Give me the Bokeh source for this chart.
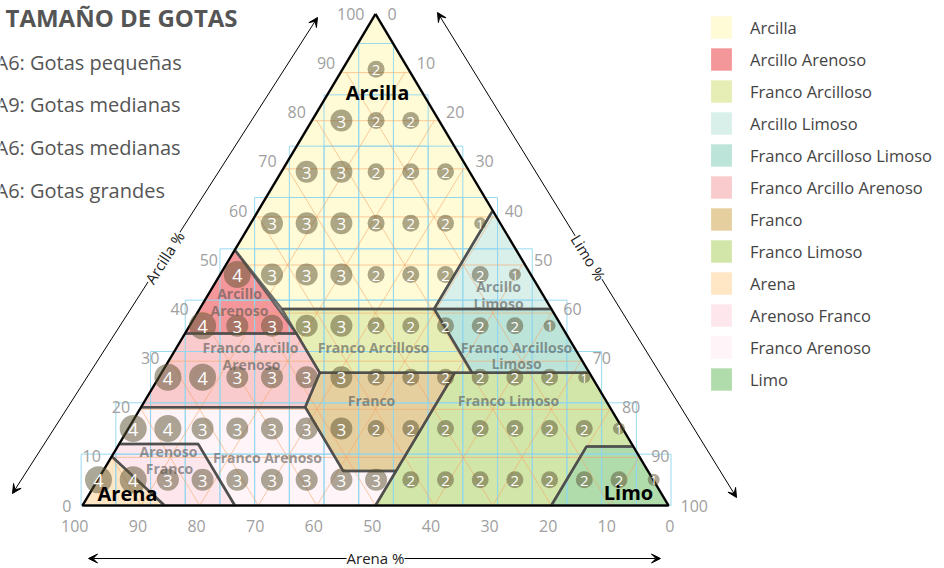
from bokeh.plotting import figure
from bokeh.models import Range1d, Legend, LegendItem, ColumnDataSource, Arrow, VeeHead, Label
from bokeh.core.properties import value
from bokeh.embed import file_html
from bokeh.resources import INLINE

# ---------------- data ----------------
title_text = "TAMAÑO DE GOTAS"
drop_legend = ["A6: Gotas pequeñas", "A9: Gotas medianas", "A6: Gotas medianas", "A6: Gotas grandes"]

# drop-size class per cell, rows from the top of the triangle
row_values = [
    [2],
    [3, 2, 2],
    [3, 3, 2, 2, 2],
    [3, 3, 3, 2, 2, 2, 1],
    [4, 3, 3, 3, 2, 2, 2, 2, 1],
    [4, 3, 3, 3, 3, 2, 2, 2, 2, 2, 1],
    [4, 4, 3, 3, 3, 3, 2, 2, 2, 2, 2, 2, 1],
    [4, 4, 3, 3, 3, 3, 3, 2, 2, 2, 2, 2, 2, 2, 1],
    [4, 4, 3, 3, 3, 3, 3, 3, 3, 2, 2, 2, 2, 2, 2, 2, 1],
]

tick_values = [0, 10, 20, 30, 40, 50, 60, 70, 80, 90, 100]

region_names = ["Arcilla", "Arcillo Arenoso", "Franco Arcilloso", "Arcillo Limoso",
                "Franco Arcilloso Limoso", "Franco Arcillo Arenoso", "Franco", "Franco Limoso",
                "Arena", "Arenoso Franco", "Franco Arenoso", "Limo"]
region_colors = ["#FFFBD6", "#F4979A", "#E7EEB5", "#D9EFEA", "#BDE4D9", "#F9CBCC",
                 "#E6CF9F", "#D3E6A9", "#FFE6C4", "#FDE7EC", "#FFF4F7", "#B0DCAB"]
# polygon vertices: clay % and silt % (sand = 100 - clay - silt)
region_clay = [
    [100, 52, 40, 40, 60],
    [52, 35, 35],
    [40, 40, 27, 27],
    [60, 40, 40],
    [40, 40, 27, 27],
    [35, 35, 27, 20, 20],
    [27, 27, 7, 7, 20],
    [27, 27, 12, 12, 0, 0],
    [10, 0, 0],
    [12.5, 12.5, 0, 0, 10],
    [20, 20, 7, 7, 0, 0, 12.5, 12.5],
    [12, 0, 0, 12],
]
region_silt = [
    [0, 0, 14, 40, 40],
    [0, 0, 19],
    [14, 40, 53, 27],
    [40, 60, 40],
    [40, 60, 73, 53],
    [0, 19, 27, 28, 0],
    [27, 50, 50, 41, 28],
    [50, 73, 88, 80, 80, 50],
    [0, 14, 0],
    [0, 13.5, 26, 14, 0],
    [0, 28, 41, 50, 50, 26, 13.5, 0],
    [88, 100, 80, 80],
]

# ---------------- geometry (screen px -> data) ----------------
W, H = 944, 568
PX0, PSX = 82.0, 5.86     # px of 0 and px per unit, horizontal
PY0, PSY = 505.0, 4.915   # px of base and px per unit, vertical


def dx(px):
    return (px - PX0) / PSX


def dy(py):
    return (PY0 - py) / PSY


def tern(clay, silt):
    return silt + clay / 2.0, clay


p = figure(width=W, height=H, x_range=Range1d(dx(0), dx(W)), y_range=Range1d(dy(H), dy(0)),
           output_backend="svg", toolbar_location=None, x_axis_type=None, y_axis_type=None,
           min_border=0, title=None)
p.grid.visible = False
p.outline_line_color = None
p.background_fill_color = "white"
p.border_fill_color = "white"

FONT = value("Open Sans")

# ---------------- regions ----------------
xs, ys = [], []
for C, S in zip(region_clay, region_silt):
    pts = [tern(c, s) for c, s in zip(C, S)]
    xs.append([q[0] for q in pts])
    ys.append([q[1] for q in pts])
src = ColumnDataSource(dict(xs=xs, ys=ys, color=region_colors, name=region_names))
pr = p.patches("xs", "ys", source=src, fill_color="color", fill_alpha=1.0, line_alpha=0)

# ---------------- cell grid ----------------
GRID_CX = 50.1
CELL_W = 34.7 / PSX
GRID_TOP = dy(43)
CELL_H = (GRID_TOP - 0.0) / len(row_values)
cx, cy, vals, sizes, fsz = [], [], [], [], []
for r, row in enumerate(row_values):
    for j, v in enumerate(row):
        cx.append(GRID_CX + (j - r) * CELL_W)
        cy.append(GRID_TOP - (r + 0.5) * CELL_H)
        vals.append(str(v))
        sizes.append(5 * v + 7)
        fsz.append(["12px", "15px", "17px", "18px"][v - 1])
cells = ColumnDataSource(dict(x=cx, y=cy, v=vals, s=sizes, fs=fsz))
p.rect("x", "y", width=CELL_W, height=CELL_H, source=cells, fill_alpha=0,
       line_color="#8fd6f0", line_width=1, line_alpha=0.9)

# ---------------- ternary grid (orange) ----------------
OR_H = dy(24)
gx, gy = [], []
for k in range(1, 10):
    f = k / 10.0
    yh = f * OR_H
    gx.append([yh / 2.0, 100 - yh / 2.0]); gy.append([yh, yh])
    gx.append([100 * f, 100 * f + (1 - f) * 50]); gy.append([0, (1 - f) * OR_H])
    gx.append([100 * (1 - f), (1 - f) * 50]); gy.append([0, (1 - f) * OR_H])
p.multi_line(gx, gy, line_color="#f4a261", line_alpha=0.55, line_width=1)

# ---------------- region boundaries ----------------
bx = [x + [x[0]] for x in xs]
by = [y + [y[0]] for y in ys]
p.multi_line(bx, by, line_color="#4a4a4a", line_alpha=0.8, line_width=2.5)

# triangle outline
tx = [tern(100, 0)[0], tern(0, 0)[0], tern(0, 100)[0], tern(100, 0)[0]]
ty = [100, 0, 0, 100]
p.line(tx, ty, line_color="black", line_width=2)

# ---------------- bubbles ----------------
p.scatter("x", "y", size="s", source=cells, fill_color="#5a5232", fill_alpha=0.5, line_alpha=0)
p.text("x", "y", text="v", source=cells, text_color="white", text_font_size="fs",
       text_align="center", text_baseline="middle", text_font=FONT, y_offset=1)

# ---------------- region labels ----------------
lab_px = [("Arcillo", 239, 293), ("Arenoso", 239, 310),
          ("Franco Arcillo", 250, 347), ("Arenoso", 251, 364),
          ("Franco Arcilloso", 373, 347),
          ("Arcillo", 498, 286), ("Limoso", 498, 303),
          ("Franco Arcilloso", 516, 347), ("Limoso", 516, 363),
          ("Franco", 371, 400), ("Franco Limoso", 508, 400),
          ("Arenoso", 168, 451), ("Franco", 169, 468),
          ("Franco Arenoso", 267, 457)]
p.text([dx(a[1]) for a in lab_px], [dy(a[2]) for a in lab_px], text=[a[0] for a in lab_px],
       text_color="#555555", text_alpha=0.6, text_font_size="14px", text_font_style="bold",
       text_align="center", text_baseline="middle", text_font=FONT)

big_px = [("Arcilla", 377, 92), ("Arena", 127, 493), ("Limo", 628, 492)]
p.text([dx(a[1]) for a in big_px], [dy(a[2]) for a in big_px], text=[a[0] for a in big_px],
       text_color="black", text_font_size="20px", text_font_style="bold",
       text_align="center", text_baseline="middle", text_font=FONT)

# ---------------- tick labels ----------------
TICK_C = "#a0a0a0"
p.text([c / 2.0 - 11 / PSX for c in tick_values], [c for c in tick_values],
       text=[str(c) for c in tick_values], text_color=TICK_C, text_font_size="16px",
       text_align="right", text_baseline="middle", text_font=FONT)
p.text([100 - (100 - s) / 2.0 + 12 / PSX for s in tick_values], [100 - s for s in tick_values],
       text=[str(s) for s in tick_values], text_color=TICK_C, text_font_size="16px",
       text_align="left", text_baseline="middle", text_font=FONT)
p.text([100 - a + 6 / PSX for a in tick_values], [dy(525)] * len(tick_values),
       text=[str(a) for a in tick_values], text_color=TICK_C, text_font_size="16px",
       text_align="right", text_baseline="middle", text_font=FONT)

# ---------------- axis arrows ----------------
def arrow(x0, y0, x1, y1):
    p.add_layout(Arrow(start=VeeHead(size=9, fill_color="black", line_color="black"),
                       end=VeeHead(size=9, fill_color="black", line_color="black"),
                       x_start=dx(x0), y_start=dy(y0), x_end=dx(x1), y_end=dy(y1),
                       line_color="black", line_width=1))


arrow(12, 493, 317, 17)
arrow(437, 12, 736, 497)
arrow(88, 558, 660, 558)

for txt, ax, ay, ang in [("Arcilla %", 164, 257, 57.35), ("Limo %", 588, 257, -58.35),
                         ("Arena %", 375, 557, 0)]:
    p.add_layout(Label(x=dx(ax), y=dy(ay), text=txt, angle=ang, angle_units="deg",
                       text_align="center", text_baseline="middle", text_font_size="15px",
                       text_color="#222222", text_font="Open Sans",
                       background_fill_color="white", background_fill_alpha=1.0))

# ---------------- title and drop legend ----------------
p.text([dx(5)], [dy(17)], text=[title_text], text_color="#555555", text_font_size="24px",
       text_font_style="bold", text_align="left", text_baseline="middle", text_font=FONT)
p.text([dx(-5)] * 4, [dy(62), dy(104), dy(147), dy(190)], text=drop_legend,
       text_color="#555555", text_font_size="20px", text_align="left",
       text_baseline="middle", text_font=FONT)

# ---------------- soil legend ----------------
items = [LegendItem(label=n, renderers=[pr], index=i) for i, n in enumerate(region_names)]
leg = Legend(items=items, location=(708, 568 - 393), glyph_width=26, glyph_height=28, spacing=4,
             label_standoff=16, padding=0, margin=0, border_line_alpha=0,
             background_fill_alpha=0, label_text_font_size="16.5px", label_text_color="#444444",
             label_text_font="Open Sans")
p.add_layout(leg)

open("out.html", "w").write(file_html(p, INLINE))
